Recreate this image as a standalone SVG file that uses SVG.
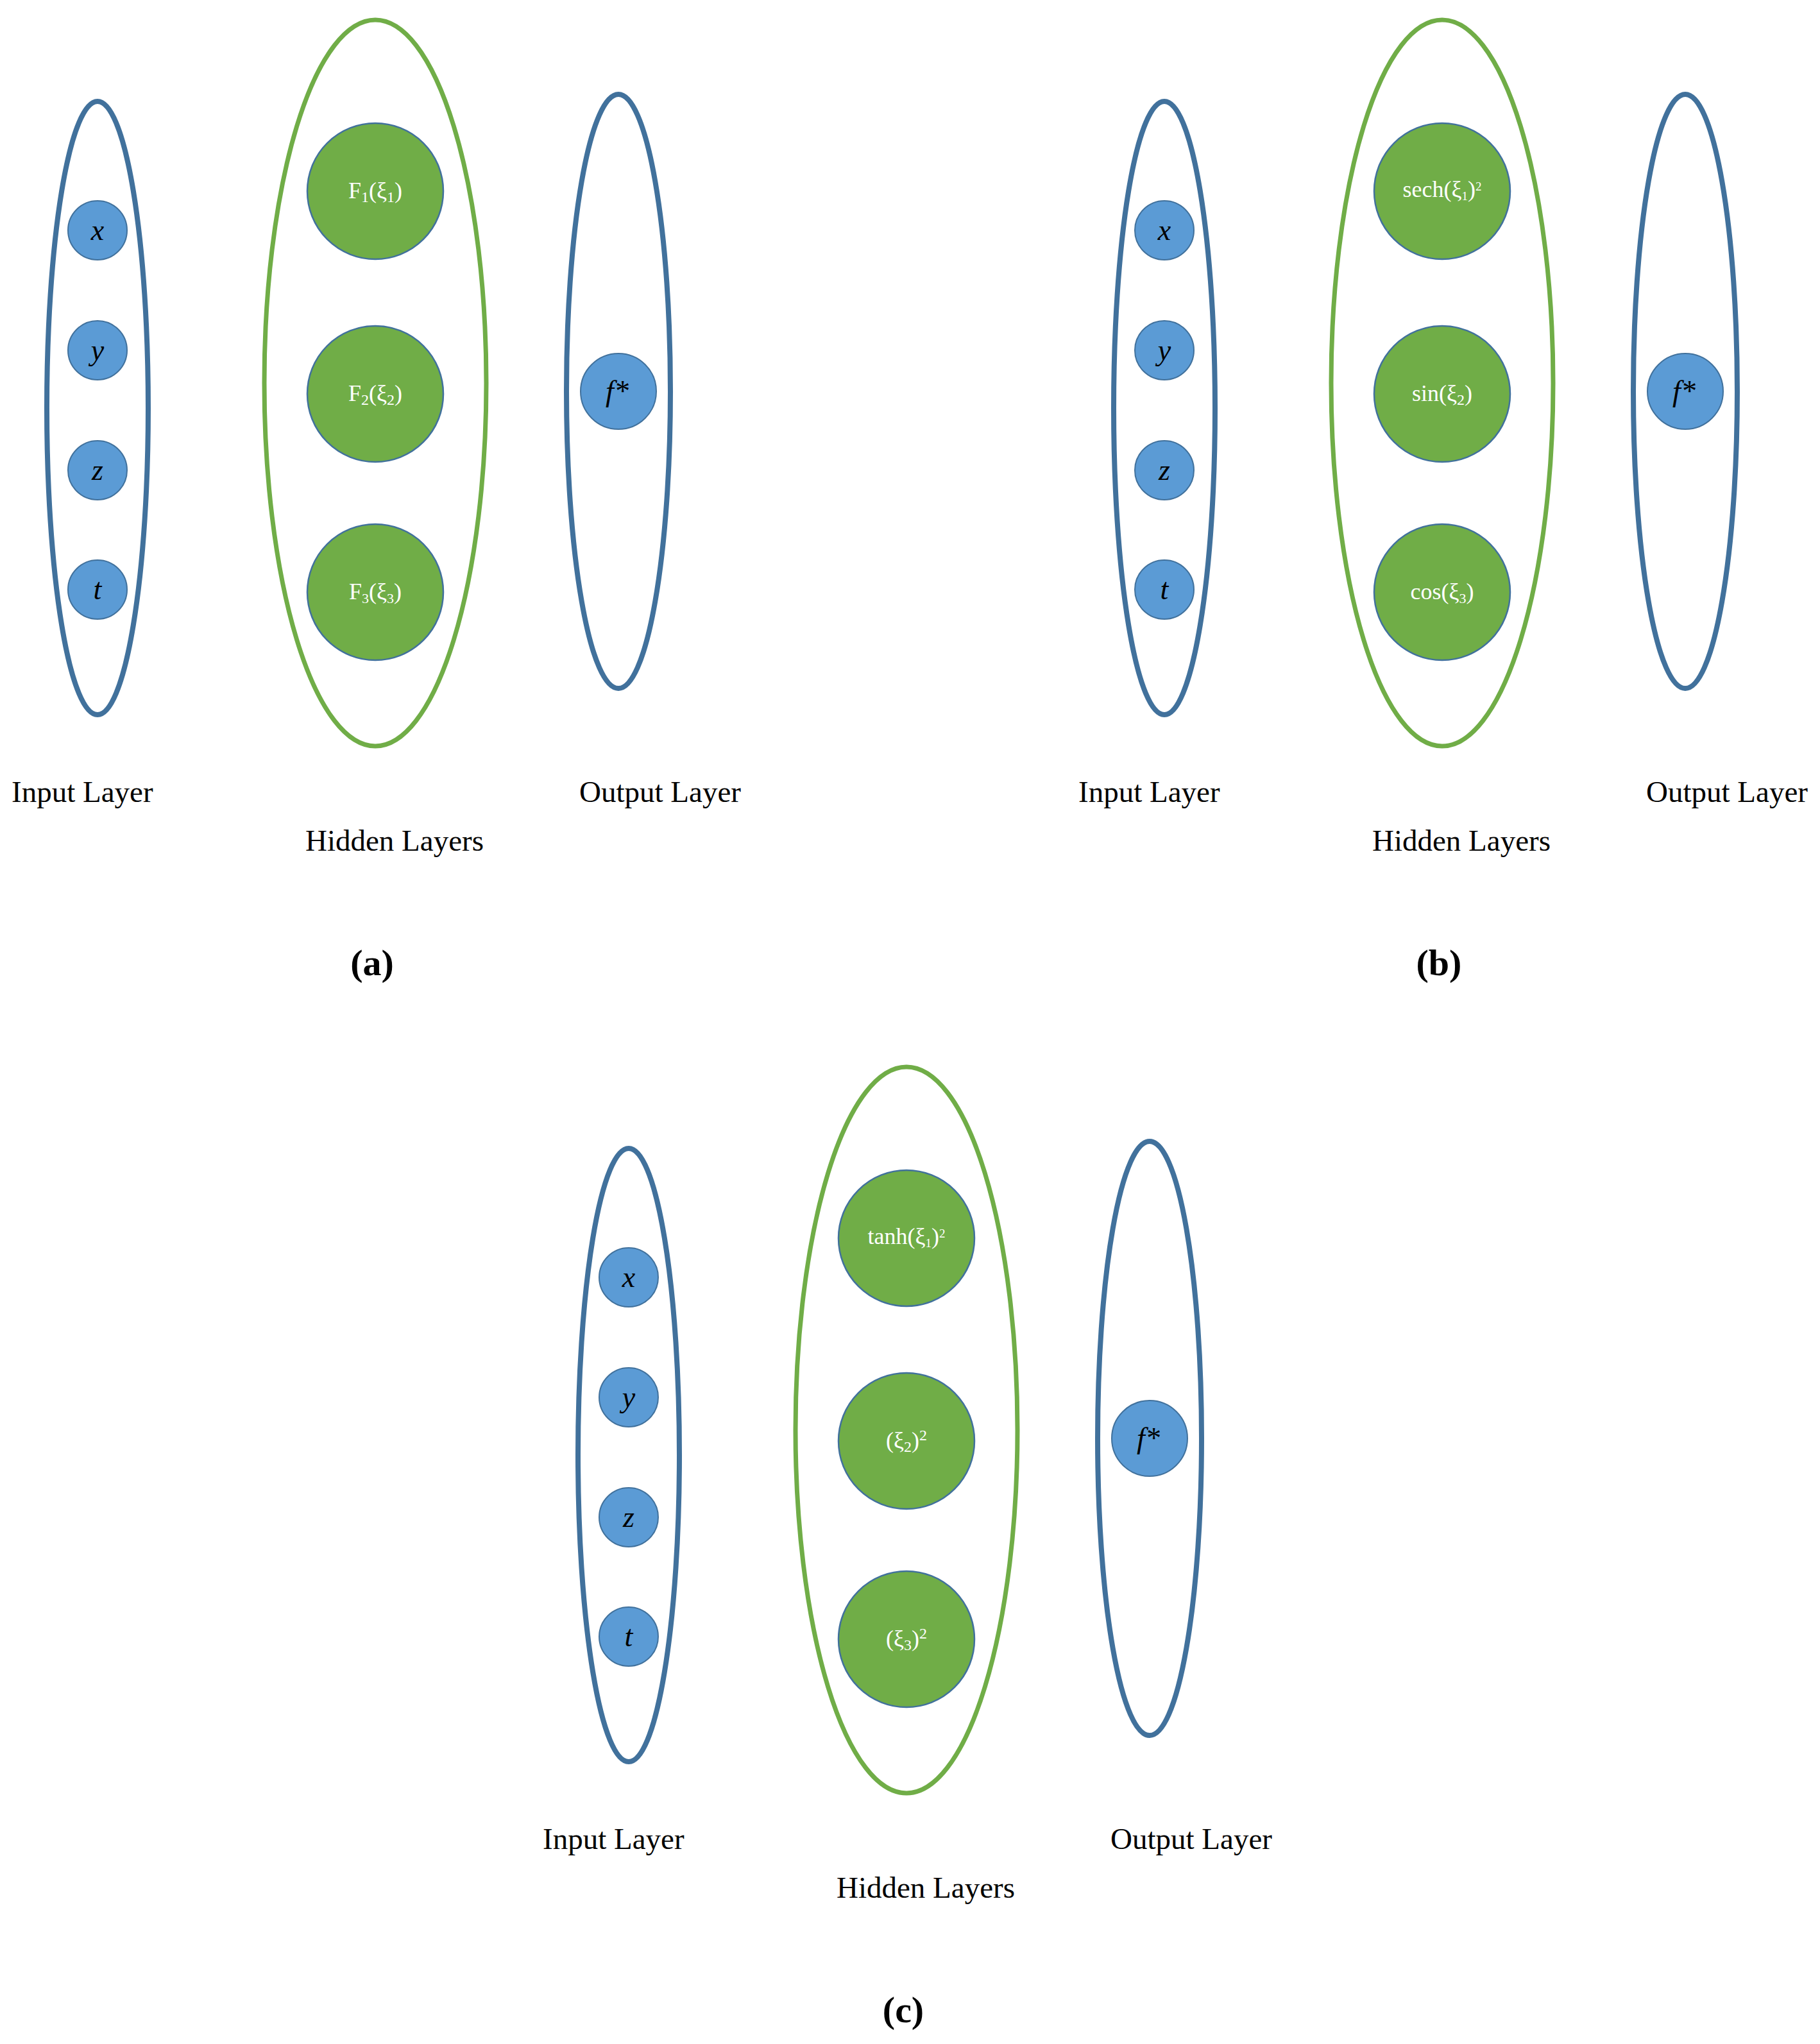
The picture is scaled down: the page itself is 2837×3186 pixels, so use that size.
<svg xmlns="http://www.w3.org/2000/svg" width="2837" height="3186" viewBox="0 0 2837 3186">
<defs>
<style>
.lay{fill:none;stroke:#41719c;stroke-width:8}
.hid{fill:none;stroke:#70ad47;stroke-width:7}
.in{fill:#5b9bd5;stroke:#41719c;stroke-width:2}
.hn{fill:#70ad47;stroke:#41719c;stroke-width:2.5}
.c path{stroke:#5b9bd5;stroke-width:3;fill:none}
.var{font-family:"Liberation Serif",serif;font-style:italic;font-size:46px;fill:#000;text-anchor:middle}
.fn{font-family:"Liberation Serif",serif;font-size:36px;fill:#fff;text-anchor:middle}
.lab{font-family:"Liberation Serif",serif;font-size:47px;fill:#000}
.cap{font-family:"Liberation Serif",serif;font-size:58px;font-weight:bold;fill:#000;text-anchor:middle}
</style>
<g id="edges">
<path d="M198 359L479 298M198 359L479 614M198 359L479 923M198 546L479 298M198 546L479 614M198 546L479 923M198 733L479 298M198 733L479 614M198 733L479 923M198 919L479 298M198 919L479 614M198 919L479 923M691 298L905 610M691 614L905 610M691 923L905 610"/>
</g>
</defs>
<!-- Panel a -->
<g id="panel-a">
<ellipse id="a-input-layer" class="lay" cx="152" cy="636" rx="79" ry="478"/>
<ellipse id="a-hidden-layer" class="hid" cx="585" cy="597" rx="173" ry="566"/>
<ellipse id="a-output-layer" class="lay" cx="964" cy="610" rx="81" ry="463"/>
<g class="c" id="a-connectors"><use href="#edges"/></g>
<g id="a-x"><circle class="in" cx="152" cy="359" r="46"/><text class="var" x="152" y="374">x</text></g>
<g id="a-y"><circle class="in" cx="152" cy="546" r="46"/><text class="var" x="152" y="561">y</text></g>
<g id="a-z"><circle class="in" cx="152" cy="733" r="46"/><text class="var" x="152" y="748">z</text></g>
<g id="a-t"><circle class="in" cx="152" cy="919" r="46"/><text class="var" x="152" y="934">t</text></g>
<g id="a-h1"><circle class="hn" cx="585" cy="298" r="106"/><text class="fn" x="585" y="309">F<tspan font-size="24" dy="6">1</tspan><tspan dy="-6">(ξ</tspan><tspan font-size="24" dy="6">1</tspan><tspan dy="-6">)</tspan></text></g>
<g id="a-h2"><circle class="hn" cx="585" cy="614" r="106"/><text class="fn" x="585" y="625">F<tspan font-size="24" dy="6">2</tspan><tspan dy="-6">(ξ</tspan><tspan font-size="24" dy="6">2</tspan><tspan dy="-6">)</tspan></text></g>
<g id="a-h3"><circle class="hn" cx="585" cy="923" r="106"/><text class="fn" x="585" y="934" font-size="33">F<tspan font-size="22" dy="6">3</tspan><tspan dy="-6">(ξ</tspan><tspan font-size="22" dy="6">3</tspan><tspan dy="-6">)</tspan></text></g>
<g id="a-out"><circle class="in" cx="964" cy="610" r="59"/><text class="var" x="962" y="625">f*</text></g>
<text class="lab" x="18" y="1250">Input Layer</text>
<text class="lab" x="903" y="1250">Output Layer</text>
<text class="lab" x="476" y="1326">Hidden Layers</text>
<text class="cap" x="580" y="1520">(a)</text>
</g>
<!-- Panel b -->
<g id="panel-b" transform="translate(1663,0)">
<ellipse id="b-input-layer" class="lay" cx="152" cy="636" rx="79" ry="478"/>
<ellipse id="b-hidden-layer" class="hid" cx="585" cy="597" rx="173" ry="566"/>
<ellipse id="b-output-layer" class="lay" cx="964" cy="610" rx="81" ry="463"/>
<g class="c" id="b-connectors"><use href="#edges"/></g>
<g id="b-x"><circle class="in" cx="152" cy="359" r="46"/><text class="var" x="152" y="374">x</text></g>
<g id="b-y"><circle class="in" cx="152" cy="546" r="46"/><text class="var" x="152" y="561">y</text></g>
<g id="b-z"><circle class="in" cx="152" cy="733" r="46"/><text class="var" x="152" y="748">z</text></g>
<g id="b-t"><circle class="in" cx="152" cy="919" r="46"/><text class="var" x="152" y="934">t</text></g>
<g id="b-h1"><circle class="hn" cx="585" cy="298" r="106"/><text class="fn" x="585" y="307" font-size="28">sech(ξ<tspan font-size="19" dy="5">1</tspan><tspan dy="-5">)</tspan><tspan font-size="19" dy="-10">2</tspan></text></g>
<g id="b-h2"><circle class="hn" cx="585" cy="614" r="106"/><text class="fn" x="585" y="625">sin(ξ<tspan font-size="24" dy="6">2</tspan><tspan dy="-6">)</tspan></text></g>
<g id="b-h3"><circle class="hn" cx="585" cy="923" r="106"/><text class="fn" x="585" y="934" font-size="34">cos(ξ<tspan font-size="22" dy="6">3</tspan><tspan dy="-6">)</tspan></text></g>
<g id="b-out"><circle class="in" cx="964" cy="610" r="59"/><text class="var" x="962" y="625">f*</text></g>
<text class="lab" x="18" y="1250">Input Layer</text>
<text class="lab" x="903" y="1250">Output Layer</text>
<text class="lab" x="476" y="1326">Hidden Layers</text>
<text class="cap" x="580" y="1520">(b)</text>
</g>
<!-- Panel c -->
<g id="panel-c" transform="translate(828,1632)">
<ellipse id="c-input-layer" class="lay" cx="152" cy="636" rx="79" ry="478"/>
<ellipse id="c-hidden-layer" class="hid" cx="585" cy="597" rx="173" ry="566"/>
<ellipse id="c-output-layer" class="lay" cx="964" cy="610" rx="81" ry="463"/>
<g class="c" id="c-connectors"><use href="#edges"/></g>
<g id="c-x"><circle class="in" cx="152" cy="359" r="46"/><text class="var" x="152" y="374">x</text></g>
<g id="c-y"><circle class="in" cx="152" cy="546" r="46"/><text class="var" x="152" y="561">y</text></g>
<g id="c-z"><circle class="in" cx="152" cy="733" r="46"/><text class="var" x="152" y="748">z</text></g>
<g id="c-t"><circle class="in" cx="152" cy="919" r="46"/><text class="var" x="152" y="934">t</text></g>
<g id="c-h1"><circle class="hn" cx="585" cy="298" r="106"/><text class="fn" x="585" y="307" font-size="28">tanh(ξ<tspan font-size="19" dy="5">1</tspan><tspan dy="-5">)</tspan><tspan font-size="19" dy="-10">2</tspan></text></g>
<g id="c-h2"><circle class="hn" cx="585" cy="614" r="106"/><text class="fn" x="585" y="625">(ξ<tspan font-size="24" dy="6">2</tspan><tspan dy="-6">)</tspan><tspan font-size="24" dy="-12">2</tspan></text></g>
<g id="c-h3"><circle class="hn" cx="585" cy="923" r="106"/><text class="fn" x="585" y="934">(ξ<tspan font-size="24" dy="6">3</tspan><tspan dy="-6">)</tspan><tspan font-size="24" dy="-12">2</tspan></text></g>
<g id="c-out"><circle class="in" cx="964" cy="610" r="59"/><text class="var" x="962" y="625">f*</text></g>
<text class="lab" x="18" y="1250">Input Layer</text>
<text class="lab" x="903" y="1250">Output Layer</text>
<text class="lab" x="476" y="1326">Hidden Layers</text>
<text class="cap" x="580" y="1520">(c)</text>
</g>
</svg>
